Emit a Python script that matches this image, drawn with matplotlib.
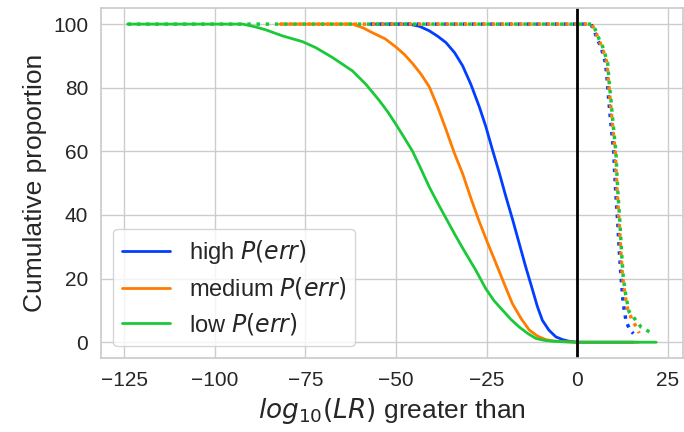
import matplotlib
matplotlib.use("Agg")
from matplotlib import pyplot as plt
import seaborn as sns

# solid curves: cumulative proportion (%) with log10(LR) greater than x
high_x = [-57, -46.4, -43.5, -40.8, -38.5, -36.2, -33.8, -31.6, -29.3, -27.0,
          -25.2, -23.4, -21.5, -19.7, -17.8, -16.0, -14.2, -12.3, -11.0, -9.6,
          -7.8, -5.9, -4.0, -2.2, 0, 5, 15.5]
high_y = [100, 100, 99.3, 97.9, 96.2, 94.2, 91.0, 86.9, 81.0, 74.0,
          67.8, 60.6, 53.3, 45.9, 38.5, 31.1, 23.7, 16.4, 11.3, 6.9,
          3.8, 1.7, 0.8, 0.3, 0, 0, 0]

medium_x = [-82, -62.0, -59, -56.5, -53, -50.0, -47.7, -45.4, -43.1, -40.8,
            -38.5, -36.2, -33.9, -31.6, -29.3, -27.0, -24.7, -22.4, -20.1, -17.9,
            -15.5, -13.2, -10.9, -8.6, -6.3, -4.0, 0, 5, 17]
medium_y = [100, 100, 98.8, 97.3, 95.4, 92.8, 90.5, 87.6, 84.3, 80.3,
            74.0, 66.9, 59.5, 53.0, 45.2, 37.9, 31.2, 24.8, 18.3, 12.2,
            7.5, 3.8, 1.9, 0.8, 0.4, 0.2, 0, 0, 0]

low_x = [-124, -92.3, -89, -85.9, -81.3, -75.8, -72.1, -67.5, -62.0, -58.3,
         -54.6, -52.3, -50.0, -47.7, -45.4, -43.1, -40.8, -38.5, -36.2, -33.9,
         -31.6, -28.0, -25.2, -22.9, -20.6, -18.3, -16.0, -13.7, -11.4, -9.1,
         -6.8, -3, 0, 21.8]
low_y = [100, 100, 99.2, 98.2, 96.3, 94.5, 92.6, 89.5, 85.3, 81.1,
         76.0, 72.5, 68.5, 64.3, 60.0, 54.5, 48.8, 43.8, 39.0, 34.2,
         29.6, 22.7, 16.8, 13.0, 10.1, 7.2, 4.8, 2.8, 1.2, 0.6,
         0.3, 0.1, 0, 0]

# dotted curves
high_dot_x = [-57, 3.8, 4.8, 5.6, 6.5, 7.8, 8.3, 8.7, 9.1, 9.6,
              10.1, 10.3, 10.7, 11.2, 11.6, 12.1, 12.7, 13.5, 14.5, 15.5]
high_dot_y = [100, 100, 97.6, 95.1, 93.0, 87.9, 82.1, 76.3, 71.1, 65.3,
              59.5, 54.3, 45.9, 37.5, 29.0, 20.6, 12.2, 6.5, 4.0, 2.7]

medium_dot_x = [-82, 4.0, 5.1, 5.9, 6.8, 8.2, 8.6, 9.1, 9.5, 10.0,
                10.5, 10.7, 11.1, 11.6, 12.0, 12.5, 13.2, 14.0, 15.0, 16.2, 17.1]
medium_dot_y = [100, 100, 97.6, 95.1, 93.0, 87.9, 82.1, 76.3, 71.1, 65.3,
                59.5, 54.3, 45.9, 37.5, 29.0, 20.6, 14.8, 10.0, 7.5, 5.0, 2.9]

low_dot_x = [-124, 4.2, 5.3, 6.1, 7.0, 8.4, 8.8, 9.3, 9.7, 10.2,
             10.7, 10.9, 11.3, 11.8, 12.2, 12.7, 13.4, 14.3, 16.2, 17.6, 19.4, 21.2]
low_dot_y = [100, 100, 97.6, 95.1, 93.0, 87.9, 82.1, 76.3, 71.1, 65.3,
             59.5, 54.3, 45.9, 37.5, 29.0, 20.6, 14.8, 9.6, 6.9, 4.8, 3.6, 2.5]

labels = ['high $P(err)$', 'medium $P(err)$', 'low $P(err)$']

sns.set_theme(style='whitegrid')
plt.rcParams['font.family'] = ['Liberation Sans', 'DejaVu Sans']
colors = sns.color_palette('bright')

fig = plt.figure(figsize=(6.84, 4.32), dpi=100)
ax = fig.add_axes([0.148, 0.171, 0.85, 0.81])

solid = [(high_x, high_y), (medium_x, medium_y), (low_x, low_y)]
dotted = [(high_dot_x, high_dot_y), (medium_dot_x, medium_dot_y), (low_dot_x, low_dot_y)]

for (x, y), c, lab in zip(solid, colors[:3], labels):
    ax.plot(x, y, color=c, lw=2, label=lab)
for (x, y), c in zip(dotted, colors[:3]):
    ax.plot(x, y, color=c, lw=2.5, ls=':')

ax.axvline(0, color='black', lw=2)
ax.set_yticks([0, 20, 40, 60, 80, 100])
ax.set_xticks([-125, -100, -75, -50, -25, 0, 25])
ax.tick_params(labelsize=15)
ax.set_xlabel('$log_{10}(LR)$ greater than', fontsize=19)
ax.set_ylabel('Cumulative proportion', fontsize=19)
ax.legend(loc='lower left', fontsize=17, labelspacing=0.4)

fig.savefig('out.png', dpi=100)
